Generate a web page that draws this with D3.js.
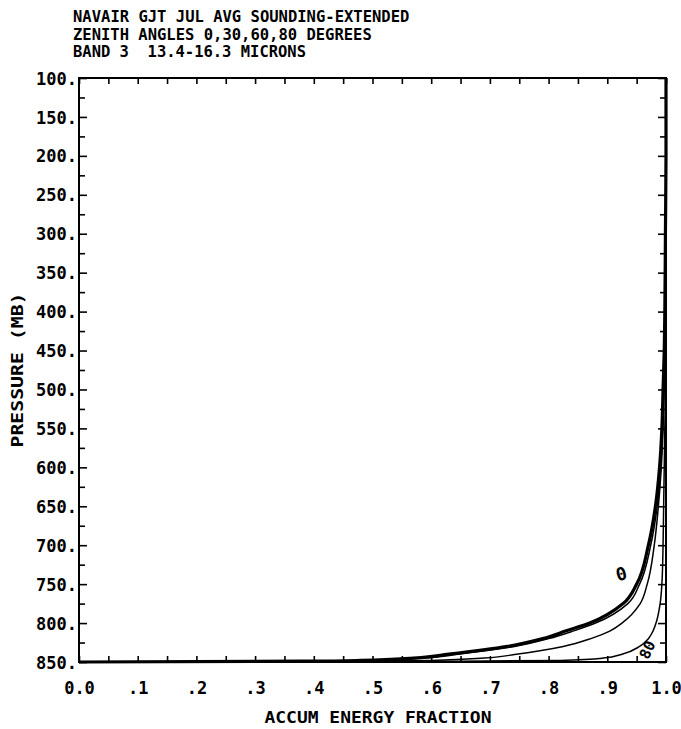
<!DOCTYPE html>
<html>
<head>
<meta charset="utf-8">
<script src="https://cdn.jsdelivr.net/npm/d3@7"></script>
<style>
  body { margin: 0; background: #fff; }
  text { font-family: "DejaVu Sans Mono", "Liberation Mono", monospace; fill: #000; white-space: pre; }
</style>
</head>
<body>
<svg id="chart" width="681" height="729"></svg>
<script>
// Header text
const titleLines = [
  "NAVAIR GJT JUL AVG SOUNDING-EXTENDED",
  "ZENITH ANGLES 0,30,60,80 DEGREES",
  "BAND 3  13.4-16.3 MICRONS"
];
const xTitle = "ACCUM ENERGY FRACTION";
const yTitle = "PRESSURE (MB)";

// Axis ticks
const pressureTicks = d3.range(100, 851, 50);
const pressureMinor = d3.range(125, 850, 50);
const fractionTicks = d3.range(0, 11).map(d => d / 10);
const fractionMinor = d3.range(0, 10).map(d => d / 10 + 0.05);

// Sounding levels (mb) and accumulated energy fraction per zenith angle
const pressures = [100, 200, 300, 400, 450, 500, 550, 600, 650, 700, 750, 775, 800, 810, 820, 830, 840, 845, 848, 849, 850];
const angle0  = [1.0, 1.0, 0.999, 0.998, 0.997, 0.995, 0.993, 0.989, 0.982, 0.970, 0.950, 0.927, 0.870, 0.830, 0.790, 0.730, 0.630, 0.570, 0.480, 0.380, 0.0];
const angle30 = [1.0, 1.0, 0.999, 0.998, 0.997, 0.996, 0.994, 0.991, 0.985, 0.974, 0.955, 0.935, 0.880, 0.843, 0.800, 0.742, 0.645, 0.585, 0.490, 0.390, 0.0];
const angle60 = [1.0, 1.0, 1.0, 0.999, 0.998, 0.997, 0.995, 0.992, 0.987, 0.980, 0.968, 0.956, 0.925, 0.905, 0.872, 0.825, 0.745, 0.690, 0.600, 0.450, 0.0];
const angle80 = [1.0, 1.0, 1.0, 1.0, 0.999, 0.999, 0.998, 0.997, 0.996, 0.995, 0.993, 0.990, 0.983, 0.978, 0.970, 0.955, 0.925, 0.893, 0.820, 0.650, 0.0];

const seriesList = [
  { angle: 0,  values: angle0,  width: 3.2 },
  { angle: 30, values: angle30, width: 1.5 },
  { angle: 60, values: angle60, width: 1.5 },
  { angle: 80, values: angle80, width: 1.5 }
];

const svg = d3.select("#chart");
const plotLeft = 79, plotRight = 666, plotTop = 78, plotBottom = 662;

const x = d3.scaleLinear().domain([0, 1]).range([plotLeft, plotRight]);
const y = d3.scaleLinear().domain([100, 850]).range([plotTop, plotBottom]);

// Title block: plotter-style narrow lettering, 9.4 px per character
svg.append("g").selectAll("text")
  .data(titleLines)
  .join("text")
  .attr("x", 73)
  .attr("y", (d, i) => 22 + i * 17.5)
  .attr("font-size", 16.5)
  .attr("font-weight", "bold")
  .attr("textLength", d => d.length * 9.4 - 2)
  .attr("lengthAdjust", "spacingAndGlyphs")
  .text(d => d);

// Frame
svg.append("rect")
  .attr("x", plotLeft).attr("y", plotTop)
  .attr("width", plotRight - plotLeft).attr("height", plotBottom - plotTop)
  .attr("fill", "none").attr("stroke", "#000").attr("stroke-width", 2);

function styleAxis(g) {
  g.select(".domain").remove();
  g.selectAll(".tick line").attr("stroke", "#000").attr("stroke-width", 1.6);
}

// Left axis with labels
svg.append("g")
  .attr("transform", `translate(${plotLeft},0)`)
  .call(d3.axisLeft(y).tickValues(pressureTicks).tickSize(-8).tickPadding(4)
    .tickFormat(d => d + "."))
  .call(styleAxis)
  .call(g => g.selectAll(".tick text")
    .attr("x", -2).attr("dy", "0.36em")
    .attr("font-size", 17).attr("font-weight", "bold")
    .attr("font-family", "DejaVu Sans Mono"));
svg.append("g")
  .attr("transform", `translate(${plotLeft},0)`)
  .call(d3.axisLeft(y).tickValues(pressureMinor).tickSize(-6).tickFormat(""))
  .call(styleAxis);

// Right axis (ticks only)
svg.append("g")
  .attr("transform", `translate(${plotRight},0)`)
  .call(d3.axisRight(y).tickValues(pressureTicks).tickSize(-8).tickFormat(""))
  .call(styleAxis);
svg.append("g")
  .attr("transform", `translate(${plotRight},0)`)
  .call(d3.axisRight(y).tickValues(pressureMinor).tickSize(-6).tickFormat(""))
  .call(styleAxis);

// Bottom axis with labels
svg.append("g")
  .attr("transform", `translate(0,${plotBottom})`)
  .call(d3.axisBottom(x).tickValues(fractionTicks).tickSize(-6)
    .tickFormat(d => d === 0 ? "0.0" : d === 1 ? "1.0" : d3.format(".1f")(d).replace(/^0/, "")))
  .call(styleAxis)
  .call(g => g.selectAll(".tick text")
    .attr("y", 26).attr("dy", "0.36em")
    .attr("font-size", 17).attr("font-weight", "bold")
    .attr("font-family", "DejaVu Sans Mono"));
svg.append("g")
  .attr("transform", `translate(0,${plotBottom})`)
  .call(d3.axisBottom(x).tickValues(fractionMinor).tickSize(-6).tickFormat(""))
  .call(styleAxis);

// Top axis (ticks only)
svg.append("g")
  .attr("transform", `translate(0,${plotTop})`)
  .call(d3.axisTop(x).tickValues(fractionTicks.concat(fractionMinor)).tickSize(-6).tickFormat(""))
  .call(styleAxis);

// Axis titles
svg.append("text")
  .attr("x", 378).attr("y", 723)
  .attr("text-anchor", "middle")
  .attr("font-size", 16).attr("font-weight", "bold")
  .attr("textLength", 227).attr("lengthAdjust", "spacingAndGlyphs")
  .text(xTitle);

svg.append("text")
  .attr("transform", "translate(23,370) rotate(-90)")
  .attr("text-anchor", "middle")
  .attr("font-size", 16).attr("font-weight", "bold")
  .attr("textLength", 155).attr("lengthAdjust", "spacingAndGlyphs")
  .text(yTitle);

// Curves
const line = d3.line()
  .x(d => x(d[1]))
  .y(d => y(d[0]))
  .curve(d3.curveMonotoneY);

svg.append("g").selectAll("path")
  .data(seriesList)
  .join("path")
  .attr("d", s => line(pressures.map((p, i) => [p, s.values[i]])))
  .attr("fill", "none")
  .attr("stroke", "#000")
  .attr("stroke-width", s => s.width)
  .attr("stroke-linejoin", "round");

// Curve annotations
svg.append("text")
  .attr("transform", "translate(623,580) rotate(-15)")
  .attr("text-anchor", "middle")
  .attr("font-size", 18).attr("font-weight", "bold")
  .text("0");
svg.append("text")
  .attr("transform", "translate(652,652) rotate(-65)")
  .attr("text-anchor", "middle")
  .attr("font-size", 15).attr("font-weight", "bold")
  .text("80");
</script>
</body>
</html>
